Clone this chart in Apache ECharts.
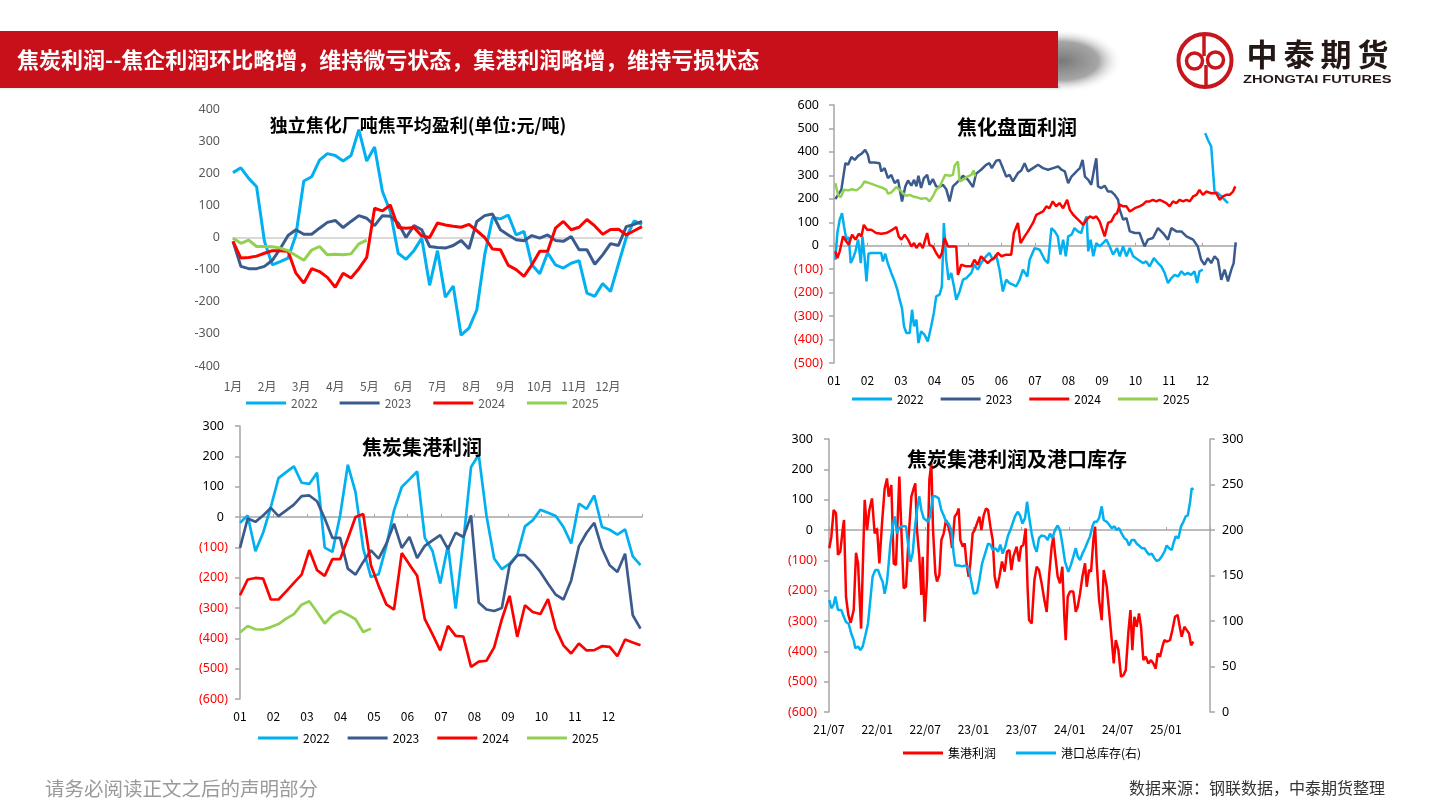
<!DOCTYPE html>
<html><head><meta charset="utf-8">
<script src="https://cdn.jsdelivr.net/npm/echarts@6/dist/echarts.min.js"></script>
<style>html,body{margin:0;padding:0;background:#fff}#c{width:1440px;height:810px}</style>
</head><body><div id="c"></div>
<script>
// ---------- DATA ----------
const years = ['2022', '2023', '2024', '2025'];
const monthLabelsCN = ['1月','2月','3月','4月','5月','6月','7月','8月','9月','10月','11月','12月'];
const monthLabelsNum = ['01','02','03','04','05','06','07','08','09','10','11','12'];

// Chart 1: 独立焦化厂吨焦平均盈利 (weekly)
const c1_2022 = [202,217,184,158,-12,-85,-75,-64,8,176,189,241,261,255,238,255,336,238,282,143,81,-49,-68,-41,-2,-149,-41,-186,-151,-304,-282,-225,-54,62,58,70,8,19,-85,-113,-48,-85,-95,-80,-72,-173,-183,-143,-168,-83,0,52,41];
const c1_2023 = [-12,-90,-97,-97,-90,-71,-35,6,24,10,10,29,47,53,31,50,68,60,37,68,66,45,0,37,24,-28,-31,-33,-25,-9,-35,50,68,73,24,8,-7,-10,6,-2,8,-9,-12,3,-38,-38,-83,-54,-19,-25,34,41,50];
const c1_2024 = [-12,-64,-62,-58,-49,-41,-41,-43,-111,-142,-97,-106,-124,-155,-111,-126,-97,-62,91,83,101,31,29,31,5,0,45,39,35,32,41,21,0,-36,-38,-87,-100,-121,-85,-43,-43,29,50,24,32,56,36,10,25,26,8,21,34];
const c1_2025 = [-2,-18,-8,-28,-28,-29,-33,-41,-56,-71,-39,-28,-54,-52,-54,-51,-20,-8];

// Chart 2: 焦化盘面利润 ([month position, value])
const c2_2022 = [[0.04,-60],[0.10,54],[0.17,111],[0.24,139],[0.30,82],[0.37,26],[0.44,37],[0.50,-74],[0.57,-53],[0.64,-24],[0.72,26],[0.80,-74],[0.85,40],[0.91,-45],[0.97,-152],[1.03,-34],[1.11,-31],[1.31,-31],[1.41,-31],[1.46,-67],[1.53,-34],[1.61,-77],[1.71,-116],[1.81,-152],[1.89,-187],[1.96,-230],[2.03,-266],[2.09,-344],[2.16,-372],[2.26,-372],[2.33,-273],[2.39,-344],[2.46,-315],[2.52,-415],[2.60,-365],[2.70,-379],[2.80,-408],[2.90,-344],[2.98,-287],[3.05,-216],[3.15,-209],[3.22,-173],[3.28,97],[3.35,-60],[3.42,-145],[3.50,-116],[3.58,-173],[3.65,-230],[3.75,-195],[3.85,-145],[3.95,-138],[4.10,-116],[4.19,-81],[4.29,-102],[4.39,-74],[4.54,-45],[4.64,-31],[4.74,-60],[4.84,-38],[4.94,-102],[5.04,-195],[5.14,-145],[5.24,-159],[5.34,-166],[5.44,-173],[5.54,-145],[5.64,-102],[5.77,-131],[5.84,-60],[5.99,-10],[6.14,-17],[6.29,-60],[6.39,-74],[6.49,75],[6.59,61],[6.68,40],[6.76,-38],[6.84,26],[6.92,-45],[6.99,40],[7.09,47],[7.18,75],[7.28,61],[7.38,54],[7.46,97],[7.54,125],[7.59,-24],[7.66,26],[7.74,-45],[7.83,11],[7.93,-3],[8.03,11],[8.13,26],[8.23,-3],[8.33,-38],[8.45,-10],[8.53,-45],[8.63,-3],[8.73,-45],[8.83,-10],[8.93,-45],[9.08,-60],[9.23,-74],[9.32,-67],[9.42,-88],[9.55,-53],[9.67,-74],[9.77,-88],[9.87,-116],[9.97,-159],[10.07,-138],[10.17,-124],[10.27,-131],[10.37,-109],[10.47,-124],[10.56,-116],[10.66,-124],[10.76,-109],[10.84,-159],[10.91,-109],[11.01,-102],[11.05,'-'],[11.08,480],[11.16,452],[11.26,423],[11.36,231],[11.46,224],[11.56,210],[11.66,196],[11.76,182]];
const c2_2023 = [[0.04,199],[0.22,239],[0.34,352],[0.42,345],[0.52,378],[0.62,366],[0.72,383],[0.82,392],[0.93,409],[1.01,388],[1.06,355],[1.21,355],[1.36,352],[1.41,317],[1.51,331],[1.61,288],[1.71,302],[1.81,267],[1.91,281],[2.03,189],[2.13,253],[2.21,278],[2.31,256],[2.39,281],[2.46,253],[2.52,298],[2.60,246],[2.68,287],[2.78,302],[2.85,260],[2.95,284],[3.05,253],[3.15,250],[3.25,260],[3.35,241],[3.45,189],[3.55,253],[3.65,267],[3.75,281],[3.85,298],[4.00,281],[4.15,250],[4.24,307],[4.39,324],[4.54,345],[4.64,352],[4.71,331],[4.84,362],[4.94,366],[5.04,331],[5.14,295],[5.24,302],[5.34,274],[5.49,310],[5.59,321],[5.69,352],[5.79,317],[5.84,317],[5.94,331],[6.09,345],[6.24,331],[6.39,324],[6.54,331],[6.69,338],[6.79,324],[6.89,317],[6.99,267],[7.09,295],[7.24,317],[7.34,331],[7.42,366],[7.49,295],[7.59,281],[7.68,260],[7.78,338],[7.83,373],[7.88,253],[7.98,246],[8.08,256],[8.18,231],[8.28,231],[8.38,217],[8.48,196],[8.53,153],[8.63,111],[8.73,118],[8.83,61],[8.98,54],[9.12,54],[9.27,-3],[9.37,26],[9.52,33],[9.67,75],[9.82,54],[9.97,26],[10.07,75],[10.22,61],[10.37,61],[10.52,40],[10.72,26],[10.86,-3],[10.96,-60],[11.06,-81],[11.16,-53],[11.26,-74],[11.36,-45],[11.46,-60],[11.56,-145],[11.66,-102],[11.76,-152],[11.86,-102],[11.93,-74],[11.99,14]];
const c2_2024 = [[0.04,-24],[0.10,-53],[0.17,-24],[0.27,40],[0.37,18],[0.44,4],[0.54,47],[0.64,26],[0.74,51],[0.82,40],[0.89,89],[0.99,68],[1.11,68],[1.26,54],[1.41,51],[1.56,54],[1.71,65],[1.86,80],[1.93,40],[2.01,26],[2.11,47],[2.21,26],[2.31,-3],[2.39,11],[2.46,-10],[2.56,11],[2.65,-10],[2.78,54],[2.85,4],[2.95,-3],[3.05,-31],[3.15,-53],[3.22,-31],[3.30,33],[3.40,-3],[3.55,-3],[3.65,-3],[3.70,-124],[3.80,-81],[3.95,-88],[4.10,-88],[4.19,-60],[4.29,-81],[4.39,-45],[4.49,-60],[4.59,-74],[4.69,-60],[4.79,-53],[4.89,-31],[5.00,-45],[5.14,-38],[5.29,-38],[5.37,54],[5.49,97],[5.57,11],[5.69,40],[5.79,61],[5.84,68],[5.94,97],[6.04,132],[6.14,139],[6.24,146],[6.34,168],[6.43,160],[6.53,189],[6.63,168],[6.73,182],[6.84,160],[6.96,196],[7.04,153],[7.14,132],[7.24,118],[7.34,104],[7.44,89],[7.54,111],[7.64,125],[7.74,118],[7.83,125],[7.93,104],[8.03,61],[8.08,40],[8.18,97],[8.28,104],[8.38,132],[8.45,139],[8.53,175],[8.63,168],[8.73,168],[8.83,146],[8.98,160],[9.12,168],[9.22,175],[9.32,189],[9.42,189],[9.52,196],[9.62,189],[9.72,196],[9.82,189],[9.92,182],[10.02,168],[10.12,189],[10.22,182],[10.32,196],[10.42,189],[10.52,196],[10.62,189],[10.72,210],[10.82,217],[10.91,238],[11.01,217],[11.11,231],[11.26,224],[11.41,224],[11.51,196],[11.61,210],[11.71,217],[11.81,217],[11.91,231],[11.98,253]];
const c2_2025 = [[0.04,267],[0.12,217],[0.20,207],[0.30,239],[0.42,236],[0.54,241],[0.67,236],[0.82,253],[0.91,274],[1.06,267],[1.26,256],[1.46,246],[1.56,239],[1.61,222],[1.71,227],[1.86,250],[1.96,239],[2.06,224],[2.16,213],[2.26,217],[2.36,210],[2.46,207],[2.60,200],[2.75,203],[2.85,189],[2.95,210],[3.05,239],[3.15,250],[3.25,281],[3.32,302],[3.45,298],[3.55,302],[3.60,341],[3.70,359],[3.75,274],[3.85,281],[3.98,295],[4.10,302],[4.17,321],[4.21,295]];

// Chart 3: 焦炭集港利润 (weekly)
const c3_2022 = [-19,5,-113,-52,33,128,148,167,113,109,146,-101,-115,5,172,82,-104,-198,-189,-95,22,99,124,150,-69,-112,-219,-93,-302,-82,165,205,5,-137,-172,-154,-126,-31,-11,24,14,3,-33,-87,44,27,71,-33,-42,-58,-41,-130,-159];
const c3_2023 = [-102,-5,-16,5,30,3,22,41,69,71,52,-5,-69,-69,-170,-190,-148,-110,-137,-88,-22,-102,-66,-135,-95,-77,-60,-106,-52,-66,5,-282,-305,-310,-300,-159,-126,-126,-150,-181,-220,-256,-272,-209,-97,-52,-19,-104,-159,-181,-121,-324,-368];
const c3_2024 = [-258,-206,-201,-203,-272,-272,-245,-217,-190,-109,-175,-194,-139,-139,-71,0,10,-159,-227,-288,-305,-119,-157,-194,-337,-387,-440,-359,-392,-394,-494,-477,-474,-430,-337,-260,-395,-291,-313,-320,-271,-368,-423,-450,-417,-440,-439,-426,-428,-459,-404,-414,-423];
const c3_2025 = [-381,-359,-370,-371,-363,-353,-335,-320,-289,-278,-313,-351,-324,-310,-322,-337,-379,-368];

// Chart 4: 焦炭集港利润及港口库存 ([months since 2021/07, value])
const c4_profit = [[0.04,-60],[0.29,-22],[0.58,66],[0.87,55],[1.12,-82],[1.41,-71],[1.70,0],[1.87,33],[2.12,-220],[2.41,-280],[2.70,-306],[3.08,-264],[3.37,-75],[3.62,-110],[4.00,-325],[4.11,-220],[4.45,99],[4.74,0],[5.03,66],[5.36,104],[5.69,-11],[5.99,5],[6.28,-110],[6.61,22],[6.94,137],[7.23,170],[7.44,110],[7.77,148],[8.07,-110],[8.35,-115],[8.60,60],[8.77,176],[9.02,0],[9.31,-192],[9.60,-187],[9.93,-22],[10.27,110],[10.56,137],[10.76,154],[10.97,0],[11.26,-88],[11.51,-214],[11.68,-88],[11.93,-302],[12.22,-165],[12.51,165],[12.76,220],[12.97,0],[13.26,-143],[13.47,-170],[13.76,-148],[14.01,-33],[14.30,-11],[14.59,33],[14.84,16],[15.13,-16],[15.34,-60],[15.67,44],[15.96,55],[16.17,71],[16.37,-33],[16.67,-55],[16.92,-44],[17.12,-104],[17.41,-154],[17.62,-110],[17.91,-11],[18.16,0],[18.45,22],[18.75,44],[19.00,0],[19.29,49],[19.58,71],[19.83,66],[20.12,11],[20.41,-33],[20.66,-154],[20.95,-192],[21.24,-154],[21.57,-104],[21.90,-137],[22.19,-71],[22.49,-66],[22.74,-132],[22.98,-88],[23.39,-55],[23.69,-104],[23.94,-55],[24.23,-49],[24.52,5],[24.77,-198],[24.94,-297],[25.27,-308],[25.61,-165],[25.89,-121],[26.18,-132],[26.51,-176],[26.85,-231],[27.14,-270],[27.43,-154],[27.76,-55],[27.97,-22],[28.18,-77],[28.51,-154],[28.80,-176],[29.09,-121],[29.34,-286],[29.51,-363],[29.76,-220],[30.05,-203],[30.46,-203],[30.76,-270],[31.01,-253],[31.30,-209],[31.59,-154],[31.92,-110],[32.13,-187],[32.42,-132],[32.67,-137],[32.96,-33],[33.17,11],[33.38,-110],[33.67,-231],[34.00,-297],[34.25,-132],[34.63,-187],[34.91,-264],[35.25,-363],[35.50,-440],[35.75,-363],[36.08,-396],[36.41,-484],[36.70,-479],[37.00,-462],[37.33,-335],[37.58,-264],[37.82,-396],[38.07,-286],[38.36,-319],[38.65,-275],[38.90,-319],[39.19,-429],[39.48,-418],[39.82,-440],[40.15,-429],[40.44,-440],[40.73,-457],[40.98,-407],[41.27,-418],[41.56,-385],[41.81,-363],[42.10,-368],[42.51,-363],[42.81,-330],[43.14,-286],[43.47,-280],[43.76,-324],[43.97,-352],[44.31,-319],[44.60,-330],[44.89,-341],[45.14,-380],[45.42,-368]];
const c4_stock = [[0.04,123],[0.29,114],[0.58,118],[0.79,127],[1.12,112],[1.54,112],[1.83,105],[2.12,99],[2.45,97],[2.78,86],[3.08,79],[3.28,70],[3.62,72],[3.91,68],[4.20,72],[4.53,84],[4.86,97],[5.15,123],[5.44,149],[5.78,156],[6.11,156],[6.40,149],[6.69,143],[6.94,130],[7.23,143],[7.44,163],[7.65,185],[7.94,204],[8.19,215],[8.48,196],[8.69,202],[9.02,204],[9.31,204],[9.60,204],[9.85,185],[10.14,165],[10.43,174],[10.68,200],[10.97,222],[11.26,237],[11.51,222],[11.80,213],[12.09,211],[12.34,209],[12.63,215],[12.93,237],[13.26,237],[13.67,235],[14.00,222],[14.30,216],[14.59,209],[14.92,207],[15.26,200],[15.54,174],[15.75,161],[16.17,161],[16.58,160],[17.00,161],[17.41,158],[17.75,143],[18.04,130],[18.45,131],[18.75,145],[19.08,163],[19.46,174],[19.83,185],[20.12,184],[20.41,178],[20.74,180],[21.07,176],[21.36,184],[21.65,174],[21.99,182],[22.32,194],[22.61,200],[22.78,202],[23.19,215],[23.52,220],[23.82,216],[24.11,207],[24.44,213],[24.69,231],[24.94,215],[25.27,196],[25.61,182],[25.89,176],[26.18,191],[26.51,194],[26.93,193],[27.26,189],[27.55,196],[27.85,191],[28.18,200],[28.51,205],[28.80,200],[29.09,185],[29.43,165],[29.84,154],[30.17,162],[30.47,171],[30.76,180],[31.01,171],[31.30,167],[31.59,174],[31.92,180],[32.25,187],[32.54,193],[32.84,204],[33.08,209],[33.38,209],[33.67,213],[34.00,226],[34.25,211],[34.63,209],[34.91,206],[35.25,202],[35.58,204],[35.87,200],[36.16,202],[36.49,196],[36.83,191],[37.12,189],[37.41,183],[37.74,189],[38.07,189],[38.36,185],[38.65,183],[38.98,180],[39.32,180],[39.61,176],[39.90,173],[40.24,174],[40.57,169],[40.86,166],[41.15,167],[41.48,171],[41.81,176],[42.10,183],[42.40,180],[42.73,178],[42.93,185],[43.22,193],[43.56,191],[43.89,204],[44.18,209],[44.48,215],[44.73,216],[45.02,231],[45.22,246],[45.42,244]];

// ---------- STYLE ----------
const FONT = '"Noto Sans", "Noto Sans CJK SC", sans-serif';
const CJK = '"Noto Sans CJK SC", "Noto Sans", sans-serif';
const COLORS = {'2022':'#00B0F0','2023':'#3B5B8D','2024':'#FF0000','2025':'#92D050'};
const RED = '#C8161D';
const AXIS_GREY = '#A6A6A6';

const chart = echarts.init(document.getElementById('c'), null, {renderer:'canvas'});

function weekly(arr, step){ return arr.map((v,i)=>[i*step, v]); }
function paren(v){ v = Number(v); return v < 0 ? '{n|(' + Math.abs(v) + ')}' : '{p|' + v + '}'; }
const parenRich = {
  n:{color:'#FF0000', fontSize:12.5, fontFamily:FONT},
  p:{color:'#000', fontSize:12.5, fontFamily:FONT, padding:[0,4,0,0]}
};

function labelAxis(grid, max, interval, fmt, margin, color){
  return {gridIndex:grid, type:'value', min:0, max:max, interval:interval, position:'bottom',
    axisLine:{show:false, onZero:false}, axisTick:{show:false}, splitLine:{show:false},
    axisLabel:{margin:margin, fontSize:12, color:color, fontFamily:CJK, formatter:fmt}};
}
function zeroAxis(grid, max, interval, color, width, ticks){
  return {gridIndex:grid, type:'value', min:0, max:max, interval:interval, position:'bottom',
    axisLine:{show:true, onZero:true, lineStyle:{color:color, width:width}},
    axisTick:{show:ticks, inside:true, length:3, lineStyle:{color:color, width:1}},
    axisLabel:{show:false}, splitLine:{show:false}};
}
function parenYAxis(grid, min, max, interval, margin){
  return {gridIndex:grid, type:'value', min:min, max:max, interval:interval,
    axisLine:{show:true, onZero:false, lineStyle:{color:AXIS_GREY, width:1.5}},
    axisTick:{show:true, length:5, lineStyle:{color:AXIS_GREY, width:1.5}},
    splitLine:{show:false},
    axisLabel:{margin:margin, formatter:paren, rich:parenRich}};
}
function line(name, xi, yi, data, width, color){
  return {name:name, type:'line', xAxisIndex:xi, yAxisIndex:yi, data:data, showSymbol:false, symbol:'none',
    color:color||COLORS[name], lineStyle:{width:width, color:color||COLORS[name]}, connectNulls:false, silent:true};
}
function legendAt(left, top, gap, names, textColor){
  return {left:left, top:top, padding:0, orient:'horizontal', itemWidth:40, itemHeight:3, itemGap:gap, icon:'rect',
    selectedMode:false, data:names, textStyle:{fontSize:12, color:textColor, fontFamily:CJK}};
}
function titleText(text, x, y, size){
  return {type:'text', x:x, y:y, z:100, style:{text:text, fill:'#000', font:'bold ' + size + 'px ' + CJK,
    align:'center', verticalAlign:'middle', textAlign:'center', textVerticalAlign:'middle'}};
}
function logoChar(ch, x){
  return {type:'text', x:x, y:54, z:3, style:{text:ch, fill:'#231815', font:'bold 31px ' + CJK,
    align:'center', verticalAlign:'middle', textAlign:'center', textVerticalAlign:'middle'}};
}

const STEP1 = 12/52;
const STEP3 = 0.2299;

const option = {
  animation:false,
  backgroundColor:'#ffffff',
  grid:[
    {left:233, top:109, width:409, height:257, outerBoundsMode:'none'},
    {left:834, top:105, width:402, height:258, outerBoundsMode:'none'},
    {left:240, top:426, width:402, height:273, outerBoundsMode:'none'},
    {left:829, top:439, width:381, height:273, outerBoundsMode:'none'}
  ],
  xAxis:[
    labelAxis(0, 12, 1, v => (v >= 0 && v < 12) ? monthLabelsCN[v] : '', 14, '#595959'),
    zeroAxis(0, 12, 1, '#D9D9D9', 2, false),
    labelAxis(1, 12, 1, v => (v >= 0 && v < 12) ? monthLabelsNum[v] : '', 11, '#000'),
    zeroAxis(1, 12, 1, AXIS_GREY, 1.5, true),
    labelAxis(2, 12, 1, v => (v >= 0 && v < 12) ? monthLabelsNum[v] : '', 11, '#000'),
    zeroAxis(2, 12, 1, AXIS_GREY, 1.5, true),
    labelAxis(3, 47.5, 6, v => {
      if (v % 6 !== 0) return '';
      const t = 6 + v; const yy = 21 + Math.floor(t/12); const mm = (t % 12) + 1;
      return yy + '/' + (mm < 10 ? '0' + mm : mm);
    }, 11, '#000'),
    zeroAxis(3, 47.5, 6, AXIS_GREY, 1.5, true)
  ],
  yAxis:[
    {gridIndex:0, type:'value', min:-400, max:400, interval:100,
      axisLine:{show:false, onZero:false}, axisTick:{show:false}, splitLine:{show:false},
      axisLabel:{margin:13, fontSize:12.5, color:'#595959', fontFamily:FONT}},
    parenYAxis(1, -500, 600, 100, 11),
    parenYAxis(2, -600, 300, 100, 12),
    parenYAxis(3, -600, 300, 100, 12),
    {gridIndex:3, type:'value', position:'right', min:0, max:300, interval:50,
      axisLine:{show:true, onZero:false, lineStyle:{color:AXIS_GREY, width:1.5}},
      axisTick:{show:true, length:5, lineStyle:{color:AXIS_GREY, width:1.5}},
      splitLine:{show:false},
      axisLabel:{margin:12, fontSize:12.5, color:'#000', fontFamily:FONT}}
  ],
  legend:[
    legendAt(246, 397, 22, years, '#595959'),
    legendAt(852, 393, 17, years, '#000'),
    legendAt(258, 732, 18, years, '#000'),
    legendAt(903, 747, 20, ['集港利润','港口总库存(右)'], '#000')
  ],
  series:[
    line('2022', 0, 0, weekly(c1_2022, STEP1), 3),
    line('2023', 0, 0, weekly(c1_2023, STEP1), 3),
    line('2024', 0, 0, weekly(c1_2024, STEP1), 3),
    line('2025', 0, 0, weekly(c1_2025, STEP1), 3),

    line('2022', 2, 1, c2_2022, 2.5),
    line('2023', 2, 1, c2_2023, 2.5),
    line('2024', 2, 1, c2_2024, 2.5),
    line('2025', 2, 1, c2_2025, 2.5),

    line('2022', 4, 2, weekly(c3_2022, STEP3), 2.7),
    line('2023', 4, 2, weekly(c3_2023, STEP3), 2.7),
    line('2024', 4, 2, weekly(c3_2024, STEP3), 2.7),
    line('2025', 4, 2, weekly(c3_2025, STEP3), 2.7),

    line('集港利润', 6, 3, c4_profit, 2.5, '#FF0000'),
    line('港口总库存(右)', 6, 4, c4_stock, 2.5, '#00B0F0')
  ],
  graphic:[
    // banner shadow
    {type:'circle', shape:{cx:0, cy:0, r:32}, x:1062, y:61, scaleX:1.9, scaleY:1, z:1,
      style:{fill:{type:'radial', x:0.5, y:0.5, r:0.5, colorStops:[
        {offset:0, color:'rgba(120,120,120,1)'}, {offset:0.6, color:'rgba(150,150,150,0.85)'}, {offset:1, color:'rgba(255,255,255,0)'}]}}},
    {type:'rect', shape:{x:0, y:86, width:1060, height:5}, z:1,
      style:{fill:{type:'linear', x:0, y:0, x2:0, y2:1, colorStops:[{offset:0, color:'rgba(160,160,160,0.7)'},{offset:1, color:'rgba(255,255,255,0)'}]}}},
    {type:'rect', shape:{x:0, y:31, width:1058, height:57}, z:2, style:{fill:'#C8101A'}},
    {type:'text', x:17, y:60, z:3, style:{text:'焦炭利润--焦企利润环比略增，维持微亏状态，集港利润略增，维持亏损状态',
      fill:'#fff', font:'bold 22px ' + CJK, verticalAlign:'middle', textVerticalAlign:'middle'}},
    // logo
    {type:'circle', shape:{cx:1205, cy:60.5, r:26.5}, z:3, style:{fill:'none', stroke:RED, lineWidth:4}},
    {type:'line', shape:{x1:1204, y1:35, x2:1204, y2:56}, z:3, style:{stroke:RED, lineWidth:3.5}},
    {type:'line', shape:{x1:1206, y1:65, x2:1206, y2:86}, z:3, style:{stroke:RED, lineWidth:3.5}},
    {type:'circle', shape:{cx:1194.5, cy:61, r:8}, z:3, style:{fill:'none', stroke:RED, lineWidth:3.5}},
    {type:'circle', shape:{cx:1215.5, cy:60, r:8}, z:3, style:{fill:'none', stroke:RED, lineWidth:3.5}},
    logoChar('中', 1262), logoChar('泰', 1299), logoChar('期', 1336), logoChar('货', 1373),
    {type:'text', x:1243, y:79.5, scaleX:1.33, originX:0, z:3, style:{text:'ZHONGTAI FUTURES', fill:'#231815',
      font:'bold 11px "Liberation Sans", Arial, sans-serif', verticalAlign:'middle', textVerticalAlign:'middle'}},
    // chart titles
    titleText('独立焦化厂吨焦平均盈利(单位:元/吨)', 418, 125, 18),
    titleText('焦化盘面利润', 1017, 127, 20),
    titleText('焦炭集港利润', 422, 447, 20),
    titleText('焦炭集港利润及港口库存', 1017, 459, 20),
    // footer
    {type:'text', x:45, y:789, z:3, style:{text:'请务必阅读正文之后的声明部分', fill:'#9a9a9a',
      font:'19.5px ' + CJK, verticalAlign:'middle', textVerticalAlign:'middle'}},
    {type:'text', x:1385, y:788, z:3, style:{text:'数据来源：钢联数据，中泰期货整理', fill:'#333',
      font:'16px ' + CJK, align:'right', verticalAlign:'middle', textAlign:'right', textVerticalAlign:'middle'}}
  ]
};
chart.setOption(option);
</script></body></html>
